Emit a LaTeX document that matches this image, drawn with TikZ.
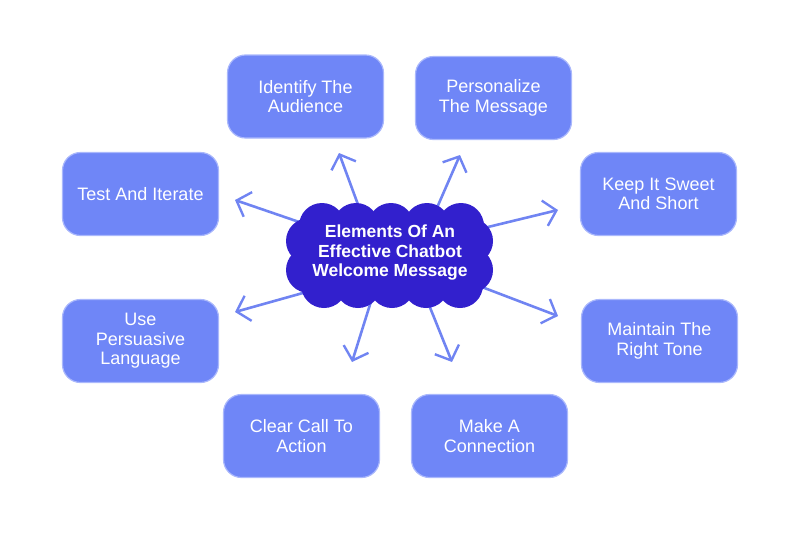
\documentclass[tikz,border=0pt]{standalone}
\usepackage{fontspec}
\setmainfont{Liberation Sans}
\usetikzlibrary{arrows.meta}
\definecolor{boxblue}{RGB}{111,134,247}
\definecolor{boxedge}{RGB}{170,184,252}
\definecolor{cloudblue}{RGB}{50,32,205}
\definecolor{arrowblue}{RGB}{112,132,242}
\tikzset{
  box/.style={draw=boxedge, line width=1.2pt, fill=boxblue, rounded corners=18pt,
    minimum width=156pt, minimum height=83pt, text=white, align=center,
    font=\fontsize{18}{19.5}\selectfont, inner sep=0pt},
  arr/.style={draw=arrowblue, line width=2.6pt, line cap=round,
    -{Straight Barb[length=12pt, width=26pt, line width=2.4pt]}},
  puff/.style={fill=cloudblue},
  title/.style={text=white, align=center, font=\fontsize{17.5}{19.5}\selectfont\bfseries, inner sep=0pt}
}
\begin{document}
\begin{tikzpicture}[x=1pt, y=-1pt]
\useasboundingbox (0,0) rectangle (800,533);
% boxes
\node[box] (identify) at (305.5,96.5) {Identify The\\Audience};
\node[box] (personal) at (493.5,98) {Personalize\\The Message};
\node[box] (test) at (140.5,194) {Test And Iterate};
\node[box] (keep) at (658.5,194) {Keep It Sweet\\And Short};
\node[box] (persuade) at (140.5,341) {Use\\Persuasive\\Language};
\node[box] (tone) at (659.5,341) {Maintain The\\Right Tone};
\node[box] (clear) at (301.5,436) {Clear Call To\\Action};
\node[box] (connect) at (489.5,436) {Make A\\Connection};
% arrow ends
\coordinate (t1) at (360,210); \coordinate (h1) at (339,153);
\coordinate (t2) at (436,210); \coordinate (h2) at (460,155);
\coordinate (t3) at (305,224); \coordinate (h3) at (235,200);
\coordinate (t4) at (488,227); \coordinate (h4) at (558,210);
\coordinate (t5) at (310,291); \coordinate (h5) at (235,312);
\coordinate (t6) at (373,295); \coordinate (h6) at (352,362);
\coordinate (t7) at (427,300); \coordinate (h7) at (452,362);
\coordinate (t8) at (474,284); \coordinate (h8) at (558,316);
\draw[arr] (t1) -- (h1);
\draw[arr] (t2) -- (h2);
\draw[arr] (t3) -- (h3);
\draw[arr] (t4) -- (h4);
\draw[arr] (t5) -- (h5);
\draw[arr] (t6) -- (h6);
\draw[arr] (t7) -- (h7);
\draw[arr] (t8) -- (h8);
% cloud
\fill[cloudblue] (306,222) rectangle (474,290);
\foreach \x in {322,356,391,427,461} {\fill[puff] (\x,226) circle (23);}
\foreach \x in {324,358,392,426,460} {\fill[puff] (\x,285) circle (23);}
\foreach \y in {241,270} {\fill[puff] (309,\y) circle (23); \fill[puff] (470,\y) circle (23);}
\node[title] (cloud) at (390,253) {Elements Of An\\Effective Chatbot\\Welcome Message};
\end{tikzpicture}
\end{document}
